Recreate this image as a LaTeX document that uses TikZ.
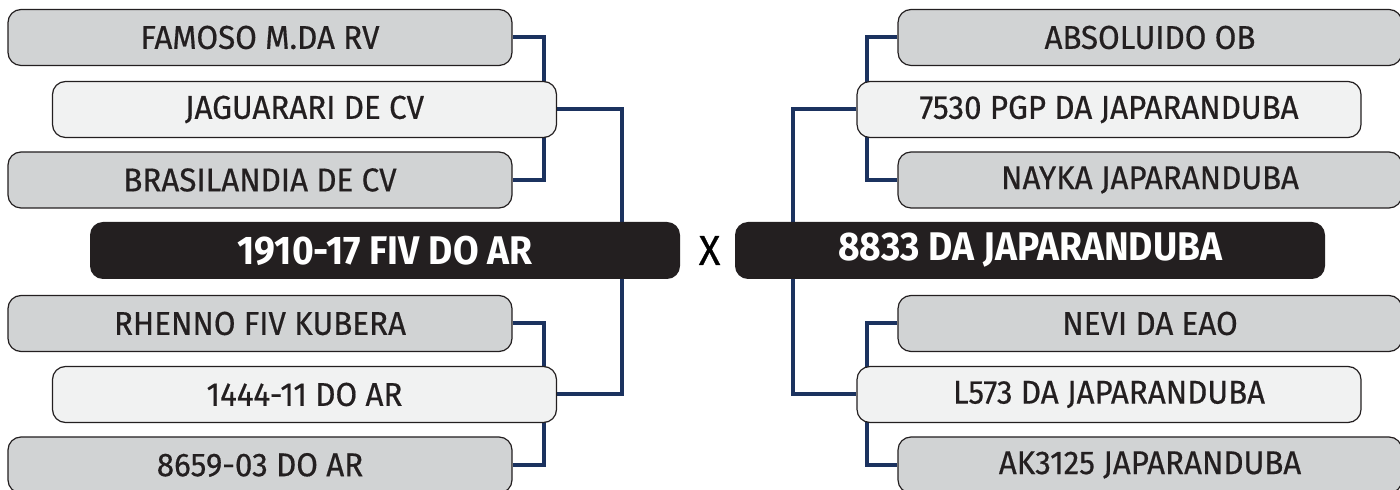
\documentclass[tikz,border=0pt]{standalone}
\usepackage{fontspec}
\setmainfont{Fira Sans}[FakeStretch=0.93]
\newfontfamily\seedfont{Fira Sans}[FakeStretch=0.95, FakeBold=0.5]
\usetikzlibrary{positioning}
\pgfdeclarelayer{back}
\pgfsetlayers{back,main}
\definecolor{boxgray}{HTML}{D1D3D4}
\definecolor{boxlight}{HTML}{F1F2F2}
\definecolor{boxdark}{HTML}{231F20}
\definecolor{linknavy}{HTML}{1B325F}

\begin{document}
\begin{tikzpicture}[x = 0.5pt, y = -0.5pt,
seedbox/.style = {shape = rectangle, rounded corners = 6.5pt, draw = boxdark, fill = boxgray, line width = 0.6pt, minimum width = 252pt, minimum height = 28pt, inner sep = 0pt, text = boxdark, font = \seedfont\fontsize{16.5}{18}\selectfont},
midbox/.style = {seedbox, fill = boxlight},
finalbox/.style = {shape = rectangle, rounded corners = 6.5pt, fill = boxdark, minimum width = 295pt, minimum height = 28.5pt, inner sep = 0pt, text = white, font = \fontsize{20}{22}\selectfont\bfseries},
link/.style = {draw = linknavy, line width = 2pt},
]
\useasboundingbox (0, 0) rectangle (1400, 490);

% left side
\node[seedbox] (fam) at (260, 37.5) {FAMOSO M.DA RV};
\node[midbox] (jag) at (304.5, 109.5) {JAGUARARI DE CV};
\node[seedbox] (bra) at (260, 180) {BRASILANDIA DE CV};
\node[finalbox] (fivL) at (385, 250.5) {1910-17 FIV DO AR};
\node[seedbox] (rhe) at (260, 323.5) {RHENNO FIV KUBERA};
\node[midbox] (doar) at (304.5, 394.5) {1444-11 DO AR};
\node[seedbox] (sui) at (260, 465) {8659-03 DO AR};

% right side
\node[seedbox] (abs) at (1150, 37.5) {ABSOLUIDO OB};
\node[midbox] (pgp) at (1109, 109.5) {7530 PGP DA JAPARANDUBA};
\node[seedbox] (nay) at (1150, 180) {NAYKA JAPARANDUBA};
\node[finalbox] (japR) at (1030, 250.5) {8833 DA JAPARANDUBA};
\node[seedbox] (nev) at (1150, 323.5) {NEVI DA EAO};
\node[midbox] (lsf) at (1109, 394.5) {L573 DA JAPARANDUBA};
\node[seedbox] (aks) at (1150, 465) {AK3125 JAPARANDUBA};

\node (vs) [right = 0pt of fivL, font = \seedfont\fontsize{21}{22}\selectfont, inner sep = 0pt, xshift = 9pt] {X};

\begin{pgfonlayer}{back}
\path[link] (fam.east) -- ++(31, 0) |- (bra.east);
\path[link] (rhe.east) -- ++(31, 0) |- (sui.east);
\path[link] (jag.east) -- ++(65, 0) |- (doar.east);
\path[link] (abs.west) -- ++(-30, 0) |- (nay.west);
\path[link] (nev.west) -- ++(-30, 0) |- (aks.west);
\path[link] (pgp.west) -- ++(-63, 0) |- (lsf.west);
\end{pgfonlayer}
\end{tikzpicture}
\end{document}
